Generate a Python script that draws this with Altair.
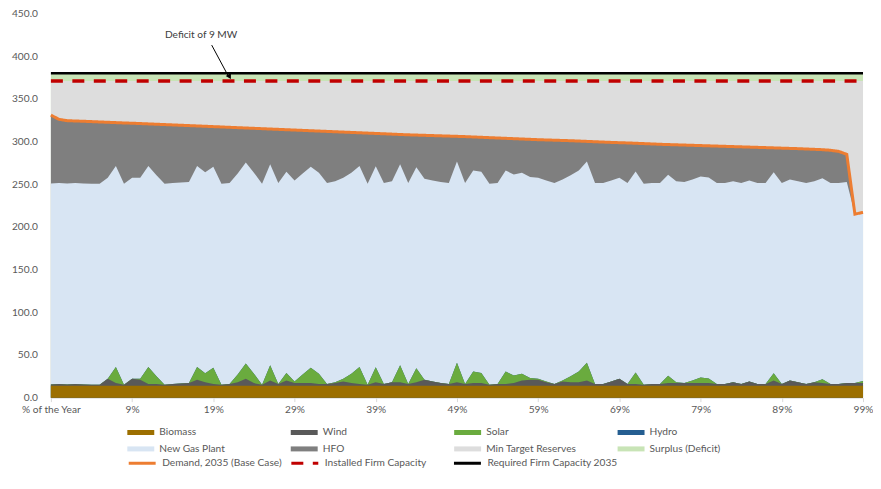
import altair as alt
import pandas as pd

# ---------------- data ----------------
x_idx = list(range(101))
tick_values = [0, 10, 20, 30, 40, 50, 60, 70, 80, 90, 100]
tick_labels = ["% of the Year", "9%", "19%", "29%", "39%", "49%",
               "59%", "69%", "79%", "89%", "99%"]
y_ticks = [0, 50, 100, 150, 200, 250, 300, 350, 400, 450]

biomass = [14.0] * 101
wind = [1.5, 2, 1.5, 2, 1.5, 1, 1, 8, 3, 1,
        8, 7, 2, 2, 1, 2, 2.5, 3, 7, 4,
        2, 1, 2, 4, 8, 3, 1, 6, 2, 6,
        3, 3, 3, 2, 2, 3, 5, 3, 2, 1,
        4, 2, 4, 4, 2, 4, 7, 5, 3, 2,
        4, 2, 3, 3, 1, 2, 2, 3, 6, 7,
        7, 4, 2, 5, 4, 4, 6, 2, 2, 5,
        8, 2, 2, 1, 2, 2, 3, 3, 3, 3,
        3, 3, 2, 2, 4, 2, 5, 2, 2, 6,
        2, 6, 4, 2, 4, 3, 2, 2, 3, 3,
        3]
solar = [0, 0, 0, 0, 0, 0, 0, 0, 19, 0,
         0, 1, 20, 9, 0, 0, 0, 0, 15, 10.5,
         19, 0, 0, 9, 18, 11, 0, 18, 0, 9,
         2, 10, 18, 12, 0, 1, 3, 11, 20, 0,
         17.5, 0, 0, 20, 0, 16.5, 0, 0, 0, 0,
         23, 0, 13.5, 12, 0, 0, 14.5, 9, 8, 2,
         1, 1, 0, 1, 7, 12.5, 21, 0, 0, 0,
         0, 0, 13.5, 0, 0, 0, 8.5, 1, 0, 3,
         6.5, 5.5, 0, 0, 0, 0, 0, 0, 0, 8.5,
         0, 0, 0, 0, 0, 4.5, 0, 0, 0, 0,
         2.5]
hydro = [0.0] * 101
new_gas = [235.5] * 99 + [198.0, 197.5]
demand = [331, 326, 324.5, 324.1, 323.8, 323.4, 323.0, 322.6, 322.2, 321.8,
          321.5, 321.1, 320.7, 320.3, 319.9, 319.5, 319.1, 318.7, 318.3, 317.9,
          317.5, 317.1, 316.7, 316.3, 315.9, 315.5, 315.1, 314.7, 314.3, 313.9,
          313.5, 313.1, 312.7, 312.3, 311.9, 311.5, 311.1, 310.7, 310.3, 309.9,
          309.5, 309.1, 308.7, 308.3, 307.9, 307.6, 307.3, 307.0, 306.7, 306.4,
          306.1, 305.8, 305.4, 305.0, 304.6, 304.2, 303.8, 303.4, 303.0, 302.6,
          302.2, 301.9, 301.6, 301.3, 301.0, 300.6, 300.2, 299.8, 299.4, 299.0,
          298.7, 298.4, 298.0, 297.6, 297.2, 296.8, 296.5, 296.2, 295.9, 295.6,
          295.3, 295.0, 294.7, 294.4, 294.1, 293.8, 293.5, 293.2, 292.9, 292.6,
          292.3, 292.0, 291.7, 291.3, 290.9, 290.5, 289.8, 288.5, 285.0, 215.0,
          217.0]
installed_firm = 371.0
required_firm = 380.0

area_names = ["Biomass", "Wind", "Solar", "Hydro",
              "New Gas Plant", "HFO", "Min Target Reserves", "Surplus (Deficit)"]
area_colors = ["#9c6f00", "#595959", "#6aab3e", "#255e91",
               "#d8e5f3", "#7f7f7f", "#dddddd", "#c8e4b6"]
line_names = ["Demand, 2035 (Base Case)", "Installed Firm Capacity",
              "Required Firm Capacity 2035"]
line_colors = ["#ed7d31", "#c00000", "#000000"]
line_dashes = [[1, 0], [12, 9.5], [1, 0]]
line_widths = [3, 3.5, 2.5]

annotation_text = ["Deficit of 9 MW"]
annotation_x = [18.5]
annotation_y = [425.0]
arrow_x = [19.8, 21.8]
arrow_y = [413.0, 377.5]
arrowhead_x = [22.0]
arrowhead_y = [376.0]

# ---------------- tables ----------------
rows = []
for i in x_idx:
    tops = {}
    base = 0.0
    for name, vals in [("Biomass", biomass), ("Wind", wind), ("Solar", solar),
                       ("Hydro", hydro), ("New Gas Plant", new_gas)]:
        base += vals[i]
        tops[name] = base
    tops["HFO"] = max(demand[i], base)
    tops["Min Target Reserves"] = installed_firm
    tops["Surplus (Deficit)"] = required_firm
    for name, top in tops.items():
        rows.append({"idx": i, "series": name, "top": top})
area_df = pd.DataFrame(rows)

line_rows = []
for i in x_idx:
    line_rows.append({"idx": i, "series": line_names[0], "value": demand[i]})
    line_rows.append({"idx": i, "series": line_names[1], "value": installed_firm})
    line_rows.append({"idx": i, "series": line_names[2], "value": required_firm})
line_df = pd.DataFrame(line_rows)

label_expr = "''"
for v, lab in reversed(list(zip(tick_values, tick_labels))):
    label_expr = f"datum.value == {v} ? '{lab}' : ({label_expr})"

FONT = "Lato"
FS = 10.2
TXT = "#595959"
x_enc = alt.X("idx:Q",
              scale=alt.Scale(domain=[0, 100], nice=False, zero=False),
              axis=alt.Axis(values=tick_values, labelExpr=label_expr, grid=False,
                            domainColor="#d9d9d9", tickColor="#d9d9d9", tickSize=4,
                            labelPadding=3, title=None, labelFlush=False,
                            labelOverlap=False, labelFont=FONT, labelFontSize=FS,
                            labelColor=TXT, minExtent=20, maxExtent=20))
y_scale = alt.Scale(domain=[0, 450], nice=False)
y_axis = alt.Axis(values=y_ticks, format=".1f", grid=False, domain=False, ticks=False,
                  labelPadding=13.5, title=None, labelFont=FONT, labelFontSize=FS,
                  labelColor=TXT, minExtent=43, maxExtent=43)

area_legend = alt.Legend(title=None, orient="none", legendX=85, legendY=414.5, columns=4,
                         direction="horizontal", symbolType="M-2.7,-0.5H2.7V0.5H-2.7Z",
                         symbolSize=100, symbolStrokeWidth=0, labelFont=FONT,
                         labelFontSize=FS, labelColor=TXT, columnPadding=40.8,
                         rowPadding=5.8, labelOffset=13.5, gridAlign="all", padding=0,
                         symbolOpacity=1)
line_legend = alt.Legend(title=None, orient="none", legendX=85, legendY=444, columns=3,
                         direction="horizontal", symbolType="M-2.7,0H2.7",
                         symbolSize=100, symbolStrokeWidth=3, labelFont=FONT,
                         labelFontSize=FS, labelColor=TXT, columnPadding=-7,
                         rowPadding=5.8, labelOffset=13.5, gridAlign="all", padding=0,
                         symbolOpacity=1)

fill_enc = alt.Fill("series:N", scale=alt.Scale(domain=area_names, range=area_colors),
                    legend=area_legend, sort=area_names)

# areas drawn top-most first, each from zero to its cumulative top (no seams)
area_order = ["Surplus (Deficit)", "Min Target Reserves", "HFO", "New Gas Plant",
              "Hydro", "Solar", "Wind", "Biomass"]
layers = []
for name in area_order:
    layers.append(
        alt.Chart(area_df)
        .transform_filter(alt.datum.series == name)
        .mark_area(opacity=1, interpolate="linear")
        .encode(x=x_enc, y=alt.Y("top:Q", scale=y_scale, axis=y_axis), fill=fill_enc)
    )

stroke_enc = alt.Stroke("series:N", scale=alt.Scale(domain=line_names, range=line_colors),
                        legend=line_legend, sort=line_names)
dash_enc = alt.StrokeDash("series:N", scale=alt.Scale(domain=line_names, range=line_dashes),
                          legend=line_legend, sort=line_names)
for name, w in zip(line_names, line_widths):
    layers.append(
        alt.Chart(line_df)
        .transform_filter(alt.datum.series == name)
        .mark_line(interpolate="linear", strokeWidth=w)
        .encode(x=x_enc, y=alt.Y("value:Q", scale=y_scale, axis=y_axis),
                stroke=stroke_enc, strokeDash=dash_enc)
    )

ann_df = pd.DataFrame({"x": annotation_x, "y": annotation_y, "text": annotation_text})
arrow_df = pd.DataFrame({"x": [arrow_x[0]], "y": [arrow_y[0]], "x2": [arrow_x[1]], "y2": [arrow_y[1]]})
head_df = pd.DataFrame({"x": arrowhead_x, "y": arrowhead_y})

layers.append(
    alt.Chart(ann_df).mark_text(font=FONT, fontSize=FS, color="#404040")
    .encode(x="x:Q", y="y:Q", text="text:N")
)
layers.append(
    alt.Chart(arrow_df).mark_rule(color="#000000", strokeWidth=1)
    .encode(x="x:Q", y="y:Q", x2="x2:Q", y2="y2:Q")
)
layers.append(
    alt.Chart(head_df).mark_point(shape="triangle-up", angle=150, filled=True, size=35,
                                  color="#000000", opacity=1)
    .encode(x="x:Q", y="y:Q")
)

chart = (
    alt.layer(*layers)
    .properties(width=814, height=385,
                padding={"left": 0, "top": 0, "right": 0, "bottom": 0},
                background="white")
    .configure_view(stroke=None)
)

chart.save("out.html", embed_options={"renderer": "svg", "actions": False})
